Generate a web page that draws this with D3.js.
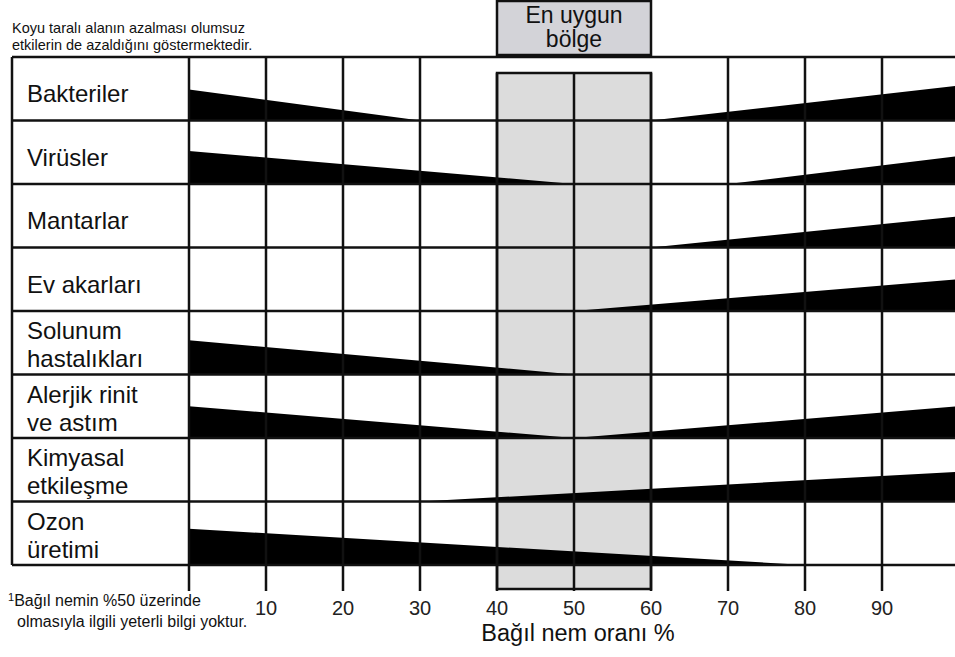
<!DOCTYPE html>
<html>
<head>
<meta charset="utf-8">
<script src="https://cdn.jsdelivr.net/npm/d3@7"></script>
<style>
  body { margin: 0; background: #fff; }
  svg { display: block; font-family: "Liberation Sans", Arial, sans-serif; }
</style>
</head>
<body>
<div id="chart"></div>
<script>
// Satır etiketleri (iki satırlı olanlar dizi olarak)
const rowLabels = [
    ['Bakteriler'],
    ['Virüsler'],
    ['Mantarlar'],
    ['Ev akarları'],
    ['Solunum', 'hastalıkları'],
    ['Alerjik rinit', 've astım'],
    ['Kimyasal', 'etkileşme'],
    ['Ozon', 'üretimi']
];

// Sol kama: %0'dan bitiş değerine kadar azalan (yükseklik satır oranı)
const leftWedgeEnd = [30, 50, null, null, 50, 50, null, 80];
const leftWedgeHeight = [0.49, 0.52, 0, 0, 0.54, 0.5, 0, 0.57];

// Sağ kama: başlangıç değerinden %100'e kadar artan
const rightWedgeStart = [60, 70, 60, 50, null, 50, 30, null];
const rightWedgeHeight = [0.55, 0.44, 0.49, 0.5, 0, 0.5, 0.47, 0];

const xTicks = [10, 20, 30, 40, 50, 60, 70, 80, 90];
const gridValues = [0, 10, 20, 30, 40, 50, 60, 70, 80, 90];
const optimalZone = [40, 60];

const width = 955, height = 657;
const tableLeft = 12, tableTop = 57, tableBottom = 565;
const tickBottom = 591, zoneTop = 73;
const ink = '#111';

const x = d3.scaleLinear().domain([0, 100]).range([189, 959]);
const y = d3.scaleBand()
    .domain(d3.range(rowLabels.length))
    .range([tableTop, tableBottom]);

const svg = d3.select('#chart').append('svg')
    .attr('width', width)
    .attr('height', height);

// Uygun bölge arka planı
svg.append('rect')
    .attr('x', x(optimalZone[0]))
    .attr('y', zoneTop)
    .attr('width', x(optimalZone[1]) - x(optimalZone[0]))
    .attr('height', tickBottom - 2 - zoneTop)
    .attr('fill', '#dcdcdc');

// Kamalar
const area = d3.area()
    .x(d => x(d.v))
    .y0(d => d.base)
    .y1(d => d.base - d.h);

rowLabels.forEach((label, i) => {
    const base = y(i) + y.bandwidth();
    const bw = y.bandwidth();
    if (leftWedgeEnd[i] != null) {
        svg.append('path')
            .attr('d', area([
                { v: 0, base, h: leftWedgeHeight[i] * bw },
                { v: leftWedgeEnd[i], base, h: 0 }
            ]))
            .attr('fill', '#000');
    }
    if (rightWedgeStart[i] != null) {
        svg.append('path')
            .attr('d', area([
                { v: rightWedgeStart[i], base, h: 0 },
                { v: 100, base, h: rightWedgeHeight[i] * bw }
            ]))
            .attr('fill', '#000');
    }
});

// Yatay çizgiler
const rowEdges = d3.range(rowLabels.length + 1).map(i => tableTop + i * y.bandwidth());
svg.selectAll('.hline')
    .data(rowEdges)
    .enter()
    .append('line')
    .attr('x1', tableLeft)
    .attr('x2', width)
    .attr('y1', d => d)
    .attr('y2', d => d)
    .attr('stroke', ink)
    .attr('stroke-width', 2.5);

// Dikey çizgiler
svg.append('line')
    .attr('x1', tableLeft).attr('x2', tableLeft)
    .attr('y1', tableTop).attr('y2', tableBottom)
    .attr('stroke', ink).attr('stroke-width', 2.5);

svg.selectAll('.vline')
    .data(gridValues)
    .enter()
    .append('line')
    .attr('x1', d => x(d))
    .attr('x2', d => x(d))
    .attr('y1', d => (d >= optimalZone[0] && d <= optimalZone[1]) ? zoneTop : tableTop)
    .attr('y2', tickBottom)
    .attr('stroke', ink)
    .attr('stroke-width', 2.5);

// Uygun bölge çerçevesi
svg.append('rect')
    .attr('x', x(optimalZone[0]))
    .attr('y', zoneTop)
    .attr('width', x(optimalZone[1]) - x(optimalZone[0]))
    .attr('height', tickBottom - 2 - zoneTop)
    .attr('fill', 'none')
    .attr('stroke', ink)
    .attr('stroke-width', 2.5);

// Üst kutu
svg.append('rect')
    .attr('x', x(optimalZone[0]))
    .attr('y', 1)
    .attr('width', x(optimalZone[1]) - x(optimalZone[0]))
    .attr('height', 54)
    .attr('fill', '#d3d3d8')
    .attr('stroke', ink)
    .attr('stroke-width', 2.5);

const zoneMid = (x(optimalZone[0]) + x(optimalZone[1])) / 2;
[['En uygun', 23], ['bölge', 47]].forEach(([t, yy]) => {
    svg.append('text')
        .attr('x', zoneMid)
        .attr('y', yy)
        .attr('text-anchor', 'middle')
        .style('font-size', '23px')
        .attr('fill', '#111')
        .text(t);
});

// Satır etiketleri
rowLabels.forEach((lines, i) => {
    const top = y(i);
    const offsets = lines.length === 1 ? [45] : [28, 56];
    lines.forEach((t, j) => {
        svg.append('text')
            .attr('x', 27)
            .attr('y', top + offsets[j])
            .style('font-size', '24px')
            .attr('fill', '#111')
            .text(t);
    });
});

// X ekseni etiketleri
svg.selectAll('.tick-label')
    .data(xTicks)
    .enter()
    .append('text')
    .attr('x', d => x(d))
    .attr('y', 615)
    .attr('text-anchor', 'middle')
    .style('font-size', '20px')
    .attr('fill', '#222')
    .text(d => d);

svg.append('text')
    .attr('x', 578)
    .attr('y', 641)
    .attr('text-anchor', 'middle')
    .style('font-size', '23.5px')
    .attr('fill', '#111')
    .text('Bağıl nem oranı %');

// Üst açıklama
['Koyu taralı alanın azalması olumsuz', 'etkilerin de azaldığını göstermektedir.'].forEach((t, j) => {
    svg.append('text')
        .attr('x', 12)
        .attr('y', 33 + j * 17)
        .style('font-size', '14.5px')
        .attr('fill', '#111')
        .text(t);
});

// Dipnot
const foot = svg.append('text')
    .attr('x', 8)
    .attr('y', 606)
    .style('font-size', '16px')
    .attr('fill', '#111');
foot.append('tspan').attr('dy', -5).style('font-size', '11px').text('1');
foot.append('tspan').attr('dy', 5).text('Bağıl nemin %50 üzerinde');

svg.append('text')
    .attr('x', 17)
    .attr('y', 627)
    .style('font-size', '16px')
    .attr('fill', '#111')
    .text('olmasıyla ilgili yeterli bilgi yoktur.');
</script>
</body>
</html>
